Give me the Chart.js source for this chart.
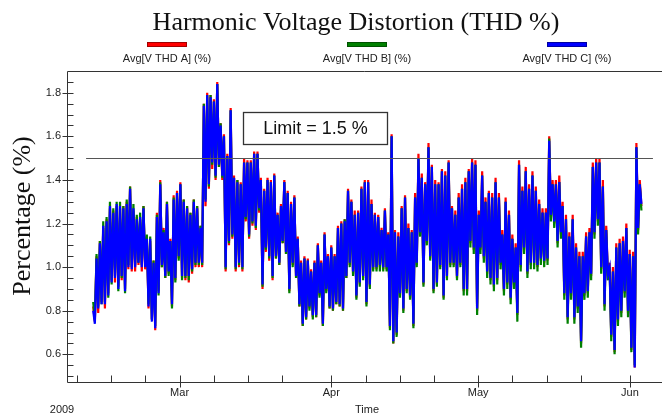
<!DOCTYPE html>
<html><head><meta charset="utf-8">
<script src="https://cdn.jsdelivr.net/npm/chart.js@4.4.1/dist/chart.umd.min.js"></script>
<style>html,body{margin:0;padding:0;background:#fff;overflow:hidden}canvas{display:block}</style>
</head><body>
<canvas id="c" width="662" height="417"></canvas>
<script>
const chartTitle = 'Harmonic Voltage Distortion (THD %)';
const seriesLabels = ['Avg[V THD A] (%)', 'Avg[V THD B] (%)', 'Avg[V THD C] (%)'];
const seriesColors = ['#ff0000', '#008000', '#0000ff'];
const startDay = 41.35;   // day of year 2009 (Jan 1 = 0) of first sample
const stepDays = 0.3425;  // spacing between samples, days

const thdA = [
0.82,0.75,1.05,0.79,1.12,0.84,1.18,0.81,1.22,0.88,1.27,0.94,1.26,0.93,1.28,0.91,1.27,0.94,1.28,0.90,
1.30,0.99,1.37,0.98,1.26,0.98,1.23,1.01,1.22,0.98,1.28,0.99,1.14,0.81,1.12,0.76,1.03,0.71,1.25,0.89,
1.40,1.00,1.18,0.95,1.30,0.97,1.13,0.82,1.33,0.94,1.35,1.04,1.39,0.95,1.31,0.94,1.28,0.93,1.25,0.97,
1.31,1.00,1.28,1.00,1.19,1.00,1.75,1.28,1.80,1.36,1.79,1.45,1.77,1.40,1.85,1.46,1.66,1.40,1.61,0.98,
1.52,1.10,1.73,1.13,1.42,0.98,1.40,1.00,1.39,0.98,1.50,1.21,1.49,1.13,1.49,1.19,1.53,1.17,1.53,1.25,
1.41,0.90,1.36,1.07,1.41,1.03,1.40,0.94,1.43,1.04,1.25,1.01,1.29,1.11,1.40,1.06,1.35,0.89,1.30,1.01,
1.33,0.95,1.14,0.82,1.03,0.73,1.05,0.76,1.04,0.81,0.99,0.77,1.03,0.77,1.11,0.87,1.03,0.73,1.16,0.89,
1.06,0.81,1.10,0.80,1.06,0.83,1.19,0.82,1.21,0.80,1.22,0.95,1.36,1.01,1.31,0.97,1.26,0.86,1.26,0.92,
1.37,0.95,1.40,0.83,1.40,0.91,1.31,0.99,1.25,0.99,1.24,1.00,1.18,0.99,1.27,0.99,1.16,0.72,1.61,0.65,
1.17,0.69,1.16,0.87,1.28,0.80,1.33,0.89,1.20,0.86,1.17,0.73,1.34,1.01,1.52,1.15,1.43,0.92,1.39,1.11,
1.57,1.04,1.47,0.89,1.40,0.92,1.39,1.00,1.45,0.86,1.44,0.95,1.49,1.01,1.28,1.01,1.26,0.95,1.34,1.01,
1.38,0.89,1.41,0.89,1.45,1.11,1.50,1.08,1.49,0.80,1.26,1.08,1.44,1.04,1.32,0.97,1.35,0.94,1.34,0.91,
1.41,0.94,1.34,1.01,1.17,0.89,1.32,0.92,1.26,0.85,1.15,0.92,1.11,0.78,1.49,1.00,1.37,1.08,1.46,0.97,
1.38,1.01,1.44,1.01,1.37,1.00,1.31,1.03,1.27,1.02,1.27,1.03,1.60,1.23,1.40,1.20,1.40,1.11,1.42,1.15,
1.30,0.87,1.24,0.76,1.16,0.87,1.24,0.76,1.11,0.81,1.07,0.65,1.07,0.87,1.16,0.88,1.18,0.96,1.48,1.15,
1.50,1.21,1.50,0.99,1.40,0.82,1.19,0.96,1.02,0.68,1.00,0.61,1.11,0.75,1.13,0.79,1.14,0.88,1.20,0.79,
1.08,0.62,1.07,0.54,1.57,1.17,1.40,1.28
];
const thdB = [
0.84,0.76,1.06,0.82,1.12,0.83,1.21,0.84,1.23,0.86,1.30,0.92,1.27,0.96,1.30,0.89,1.30,0.95,1.28,0.88,
1.31,1.01,1.37,1.00,1.29,1.01,1.24,1.02,1.25,1.01,1.28,1.01,1.15,0.83,1.14,0.76,1.03,0.73,1.24,0.87,
1.39,1.00,1.17,0.95,1.30,0.96,1.12,0.81,1.32,0.93,1.34,1.03,1.38,0.94,1.31,0.95,1.28,0.94,1.25,0.98,
1.31,1.01,1.28,1.01,1.19,1.01,1.75,1.31,1.79,1.37,1.79,1.47,1.76,1.41,1.84,1.46,1.66,1.41,1.60,0.99,
1.51,1.11,1.72,1.14,1.41,0.99,1.40,1.01,1.38,0.99,1.48,1.22,1.48,1.14,1.48,1.20,1.52,1.18,1.52,1.26,
1.40,0.91,1.35,1.08,1.40,1.04,1.39,0.95,1.42,1.04,1.24,1.01,1.28,1.11,1.39,1.06,1.34,0.88,1.29,1.00,
1.32,0.95,1.13,0.82,1.02,0.73,1.04,0.76,1.03,0.80,0.98,0.76,1.02,0.77,1.10,0.86,1.02,0.73,1.15,0.88,
1.05,0.81,1.09,0.80,1.05,0.83,1.18,0.82,1.20,0.80,1.22,0.95,1.35,1.00,1.30,0.96,1.24,0.85,1.25,0.91,
1.36,0.94,1.39,0.82,1.39,0.90,1.29,0.98,1.24,0.98,1.23,0.98,1.17,0.98,1.26,0.98,1.15,0.71,1.60,0.65,
1.16,0.68,1.14,0.86,1.27,0.79,1.32,0.88,1.18,0.85,1.16,0.72,1.32,1.00,1.50,1.14,1.41,0.91,1.38,1.10,
1.55,1.03,1.46,0.88,1.38,0.91,1.38,0.99,1.44,0.85,1.42,0.94,1.48,1.00,1.27,1.00,1.24,0.94,1.32,1.00,
1.36,0.87,1.39,0.87,1.44,1.09,1.48,1.06,1.47,0.78,1.24,1.06,1.42,1.02,1.30,0.95,1.34,0.92,1.32,0.89,
1.39,0.92,1.32,0.99,1.15,0.87,1.30,0.90,1.24,0.83,1.13,0.90,1.09,0.75,1.47,0.98,1.35,1.06,1.44,0.95,
1.36,0.99,1.42,0.99,1.35,0.98,1.29,1.01,1.25,1.00,1.25,1.01,1.59,1.21,1.38,1.18,1.38,1.09,1.39,1.13,
1.28,0.85,1.22,0.74,1.14,0.85,1.22,0.74,1.09,0.79,1.05,0.63,1.05,0.85,1.14,0.86,1.16,0.94,1.46,1.13,
1.48,1.19,1.48,0.97,1.37,0.80,1.17,0.94,1.00,0.66,0.98,0.60,1.09,0.73,1.11,0.77,1.12,0.86,1.18,0.77,
1.06,0.61,1.05,0.55,1.55,1.15,1.38,1.26
];
const thdC = [
0.80,0.74,1.04,0.81,1.11,0.83,1.19,0.83,1.21,0.87,1.28,0.93,1.25,0.95,1.29,0.90,1.28,0.96,1.27,0.89,
1.29,1.00,1.36,0.99,1.27,1.00,1.22,1.02,1.23,1.00,1.27,1.00,1.13,0.82,1.13,0.75,1.02,0.72,1.23,0.88,
1.38,1.01,1.16,0.96,1.29,0.98,1.12,0.83,1.31,0.95,1.34,1.05,1.38,0.96,1.30,0.96,1.27,0.96,1.24,0.99,
1.30,1.02,1.27,1.02,1.18,1.02,1.74,1.30,1.79,1.38,1.78,1.48,1.76,1.42,1.84,1.47,1.65,1.42,1.60,1.00,
1.51,1.12,1.72,1.15,1.41,1.00,1.39,1.02,1.38,1.00,1.48,1.23,1.48,1.15,1.48,1.21,1.52,1.19,1.52,1.27,
1.40,0.92,1.35,1.09,1.40,1.05,1.39,0.96,1.42,1.05,1.24,1.02,1.28,1.12,1.39,1.07,1.34,0.90,1.29,1.02,
1.32,0.96,1.13,0.83,1.02,0.74,1.04,0.77,1.03,0.82,0.98,0.78,1.02,0.78,1.10,0.88,1.02,0.74,1.15,0.90,
1.05,0.82,1.09,0.81,1.05,0.84,1.18,0.83,1.20,0.81,1.21,0.96,1.35,1.02,1.30,0.98,1.24,0.87,1.25,0.93,
1.36,0.96,1.39,0.84,1.39,0.92,1.29,1.00,1.24,1.00,1.23,1.01,1.17,1.00,1.26,1.00,1.15,0.73,1.60,0.66,
1.16,0.70,1.14,0.88,1.27,0.81,1.32,0.90,1.18,0.87,1.16,0.74,1.32,1.02,1.50,1.16,1.41,0.93,1.38,1.12,
1.55,1.05,1.46,0.90,1.38,0.93,1.38,1.01,1.44,0.87,1.42,0.96,1.48,1.02,1.27,1.02,1.24,0.96,1.32,1.02,
1.36,0.90,1.39,0.90,1.44,1.12,1.48,1.09,1.47,0.81,1.24,1.09,1.42,1.05,1.30,0.98,1.34,0.95,1.32,0.92,
1.39,0.95,1.32,1.02,1.15,0.90,1.30,0.93,1.24,0.86,1.13,0.93,1.09,0.79,1.47,1.01,1.35,1.09,1.44,0.98,
1.36,1.02,1.42,1.02,1.35,1.01,1.29,1.04,1.25,1.03,1.25,1.04,1.58,1.24,1.38,1.21,1.38,1.12,1.39,1.16,
1.28,0.88,1.22,0.77,1.14,0.88,1.22,0.77,1.09,0.82,1.05,0.66,1.05,0.88,1.14,0.89,1.16,0.97,1.46,1.16,
1.48,1.22,1.48,1.00,1.37,0.83,1.17,0.97,1.00,0.69,0.98,0.62,1.09,0.76,1.11,0.80,1.12,0.89,1.18,0.80,
1.06,0.63,1.05,0.54,1.55,1.18,1.38,1.29
];

const yTickValues = [0.6, 0.8, 1.0, 1.2, 1.4, 1.6, 1.8];
const yMinorStep = 0.05;
const monthTickDays = [59, 90, 120, 151];
const monthTickLabels = ['Mar', 'Apr', 'May', 'Jun'];
const weekTickDays = [38, 45, 52, 66, 73, 80, 97, 104, 111, 127, 134, 141];
const limitValue = 1.5;
const limitText = 'Limit = 1.5 %';
const yearLabel = '2009';
const xTitle = 'Time';
const yTitle = 'Percentage (%)';

const SANS = "'Liberation Sans', Arial, sans-serif";
const SERIF = "'Liberation Serif', 'Times New Roman', serif";

function toPoints(arr) { return arr.map((v, i) => ({ x: startDay + i * stepDays, y: v })); }

const decor = {
  id: 'decor',
  afterDatasetsDraw(chart) {
    const { ctx, chartArea: a, scales: { x, y } } = chart;
    ctx.save();
    // limit line
    const ly = Math.round(y.getPixelForValue(limitValue)) + 0.5;
    ctx.strokeStyle = '#555'; ctx.lineWidth = 1.2;
    ctx.beginPath(); ctx.moveTo(x.getPixelForValue(39.9), ly); ctx.lineTo(x.getPixelForValue(155.7), ly); ctx.stroke();
    // limit box
    const bx0 = Math.round(x.getPixelForValue(72.0)) + 0.5, bx1 = Math.round(x.getPixelForValue(101.4)) + 0.5;
    const by0 = Math.round(y.getPixelForValue(1.71)) + 0.5, by1 = Math.round(y.getPixelForValue(1.565)) + 0.5;
    ctx.fillStyle = '#fff'; ctx.fillRect(bx0, by0, bx1 - bx0, by1 - by0);
    ctx.strokeStyle = '#333'; ctx.lineWidth = 1.3; ctx.strokeRect(bx0, by0, bx1 - bx0, by1 - by0);
    ctx.fillStyle = '#111'; ctx.font = '18px ' + SANS; ctx.textAlign = 'center'; ctx.textBaseline = 'middle';
    ctx.fillText(limitText, (bx0 + bx1) / 2, (by0 + by1) / 2 + 1);

    // axes frame
    ctx.strokeStyle = '#333'; ctx.lineWidth = 1;
    const L = Math.round(a.left) + 0.5, T = Math.round(a.top) + 0.5, B = Math.round(a.bottom) + 0.5;
    ctx.beginPath();
    ctx.moveTo(a.right, T); ctx.lineTo(L, T); ctx.lineTo(L, B); ctx.lineTo(a.right, B);
    ctx.stroke();
    // y ticks
    ctx.beginPath();
    for (let k = 0; k < 40; k++) {
      const v = 0.5 + k * yMinorStep;
      if (v > y.max) break;
      const py = Math.round(y.getPixelForValue(v)) + 0.5;
      const major = yTickValues.some(t => Math.abs(t - v) < 1e-6);
      ctx.moveTo(major ? L - 5 : L, py); ctx.lineTo(L + 6, py);
    }
    // x ticks
    weekTickDays.forEach(d => { const px = Math.round(x.getPixelForValue(d)) + 0.5; ctx.moveTo(px, B); ctx.lineTo(px, B - 7); });
    monthTickDays.forEach(d => { const px = Math.round(x.getPixelForValue(d)) + 0.5; ctx.moveTo(px, B + 5); ctx.lineTo(px, B - 7); });
    ctx.stroke();

    // title
    ctx.fillStyle = '#111'; ctx.textAlign = 'center'; ctx.textBaseline = 'middle';
    ctx.font = '26px ' + SERIF;
    ctx.fillText(chartTitle, 356, 23);
    // legend
    const lx = [167, 367, 567];
    chart.data.datasets.forEach((ds) => {
      const idx = seriesLabels.indexOf(ds.label);
      const cx = lx[idx];
      ctx.fillStyle = ds.borderColor; ctx.fillRect(cx - 20, 42, 40, 5);
      ctx.strokeStyle = 'rgba(0,0,0,0.45)'; ctx.lineWidth = 0.8; ctx.strokeRect(cx - 20 + 0.5, 42 + 0.5, 39, 4);
      ctx.fillStyle = '#222'; ctx.font = '11px ' + SANS;
      ctx.fillText(ds.label, cx, 59);
    });
    // y title
    ctx.save();
    ctx.translate(23, 216); ctx.rotate(-Math.PI / 2);
    ctx.font = '26px ' + SERIF; ctx.fillStyle = '#111';
    ctx.fillText(yTitle, 0, 0);
    ctx.restore();
    // year and axis title
    ctx.font = '11px ' + SANS; ctx.fillStyle = '#222';
    ctx.fillText(yearLabel, 62, 410);
    ctx.fillText(xTitle, 367, 410);
    ctx.restore();
  }
};

new Chart(document.getElementById('c'), {
  type: 'line',
  data: {
    datasets: [
      { label: seriesLabels[0], data: toPoints(thdA), borderColor: seriesColors[0], order: 2 },
      { label: seriesLabels[1], data: toPoints(thdB), borderColor: seriesColors[1], order: 1 },
      { label: seriesLabels[2], data: toPoints(thdC), borderColor: seriesColors[2], order: 0 }
    ]
  },
  options: {
    responsive: false,
    devicePixelRatio: 1,
    animation: false,
    events: [],
    layout: { padding: { top: 71, left: 0, right: 0, bottom: 0 } },
    elements: { point: { radius: 0 }, line: { borderWidth: 2.2, tension: 0, fill: false } },
    plugins: { legend: { display: false }, title: { display: false }, tooltip: { enabled: false } },
    scales: {
      x: {
        type: 'linear', min: 36, max: 157.55,
        grid: { display: false, drawTicks: false }, border: { display: false },
        afterBuildTicks: s => { s.ticks = monthTickDays.map(v => ({ value: v })); },
        afterFit: s => { s.height = 35; },
        ticks: {
          autoSkip: false, maxRotation: 0, padding: 4, color: '#222',
          font: { family: SANS, size: 11 },
          callback: v => monthTickLabels[monthTickDays.indexOf(v)]
        }
      },
      y: {
        min: 0.473, max: 1.9,
        grid: { display: false, drawTicks: false }, border: { display: false },
        afterBuildTicks: s => { s.ticks = yTickValues.map(v => ({ value: v })); },
        afterFit: s => { s.width = 67; },
        ticks: {
          autoSkip: false, padding: 6, color: '#222',
          font: { family: SANS, size: 11 },
          callback: v => Number(v).toFixed(1)
        }
      }
    }
  },
  plugins: [decor]
});
</script>
</body></html>
